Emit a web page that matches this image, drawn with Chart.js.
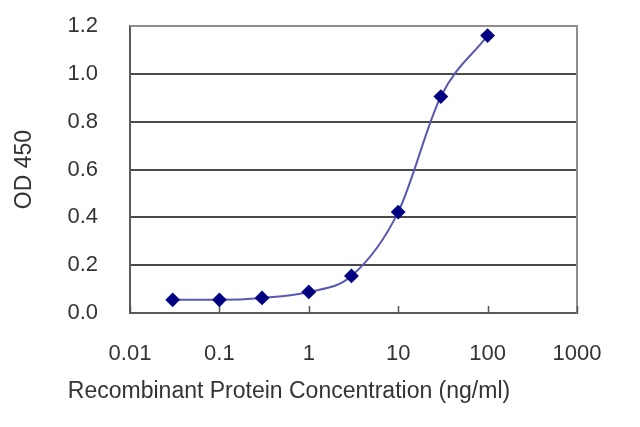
<!DOCTYPE html>
<html>
<head>
<meta charset="utf-8">
<script src="https://cdn.jsdelivr.net/npm/chart.js@4"></script>
<style>
  html, body { margin: 0; padding: 0; background: #fff; }
  #wrap { width: 640px; height: 427px; }
</style>
</head>
<body>
<div id="wrap"><canvas id="c" width="640" height="427"></canvas></div>
<script>
// ---- data ----
const concentrations = [0.03, 0.1, 0.3, 1, 3, 10, 30, 100];
const odValues = [0.055, 0.055, 0.063, 0.088, 0.155, 0.422, 0.905, 1.16];
const xTickValues = [0.01, 0.1, 1, 10, 100, 1000];
const xTickLabels = ['0.01', '0.1', '1', '10', '100', '1000'];
const yTickLabels = ['0.0', '0.2', '0.4', '0.6', '0.8', '1.0', '1.2'];
const xTitle = 'Recombinant Protein Concentration (ng/ml)';
const yTitle = 'OD 450';

const FONT = "'Liberation Sans', Arial, sans-serif";
const TEXT = '#333333';

const framePlugin = {
  id: 'frame',
  beforeDatasetsDraw(chart) {
    const { ctx, chartArea: a, scales } = chart;
    ctx.save();
    ctx.strokeStyle = '#8f8f8f';
    ctx.lineWidth = 2;
    ctx.beginPath();
    ctx.moveTo(a.left, a.top);
    ctx.lineTo(a.right, a.top);
    ctx.lineTo(a.right, a.bottom);
    ctx.stroke();
    // inner tick marks on x axis
    ctx.strokeStyle = '#555555';
    ctx.lineWidth = 1.5;
    xTickValues.forEach(v => {
      const px = Math.round(scales.x.getPixelForValue(v)) + 0.5;
      ctx.beginPath();
      ctx.moveTo(px, a.bottom);
      ctx.lineTo(px, a.bottom - 7);
      ctx.stroke();
    });
    ctx.restore();
  },
  afterDraw(chart) {
    const { ctx } = chart;
    ctx.save();
    ctx.fillStyle = TEXT;
    ctx.font = '23px ' + FONT;
    ctx.textAlign = 'center';
    ctx.textBaseline = 'middle';
    ctx.fillText(xTitle, 289, 392);
    ctx.restore();
  }
};

new Chart(document.getElementById('c'), {
  type: 'line',
  data: {
    datasets: [{
      data: concentrations.map((x, i) => ({ x: x, y: odValues[i] })),
      borderColor: '#5858b4',
      borderWidth: 2,
      backgroundColor: '#000080',
      pointBackgroundColor: '#000080',
      pointBorderColor: '#000080',
      pointStyle: 'rectRot',
      pointRadius: 6,
      cubicInterpolationMode: 'monotone',
      fill: false
    }]
  },
  options: {
    responsive: false,
    animation: false,
    devicePixelRatio: 1,
    layout: { padding: { top: 26, right: 63, left: 0, bottom: 0 } },
    plugins: { legend: { display: false }, tooltip: { enabled: false } },
    scales: {
      x: {
        type: 'logarithmic',
        min: 0.01,
        max: 1000,
        afterFit(s) { s.height = 114; s.paddingLeft = 0; s.paddingRight = 0; },
        afterBuildTicks(s) { s.ticks = xTickValues.map(v => ({ value: v })); },
        grid: { display: false, drawTicks: false },
        border: { display: true, color: '#5a5a5a', width: 2 },
        ticks: {
          autoSkip: false,
          maxRotation: 0,
          padding: 28,
          color: TEXT,
          font: { family: FONT, size: 22 },
          callback: (v) => { const i = xTickValues.indexOf(v); return i >= 0 ? xTickLabels[i] : ''; }
        },
        title: { display: false }
      },
      y: {
        min: 0,
        max: 1.2,
        afterFit(s) { s.width = 130; s.paddingTop = 0; s.paddingBottom = 0; },
        afterBuildTicks(s) { s.ticks = yTickLabels.map(t => ({ value: parseFloat(t) })); },
        grid: {
          drawTicks: false,
          lineWidth: 2,
          color: (c) => (c.tick && c.tick.value >= 1.19) ? '#8f8f8f' : '#4a4a4a'
        },
        border: { display: true, color: '#5a5a5a', width: 2 },
        ticks: {
          padding: 32,
          color: TEXT,
          font: { family: FONT, size: 22 },
          callback: (v) => v.toFixed(1)
        },
        title: {
          display: true,
          text: yTitle,
          color: TEXT,
          font: { family: FONT, size: 23 },
          padding: { top: 11, bottom: 0 }
        }
      }
    }
  },
  plugins: [framePlugin]
});
</script>
</body>
</html>
